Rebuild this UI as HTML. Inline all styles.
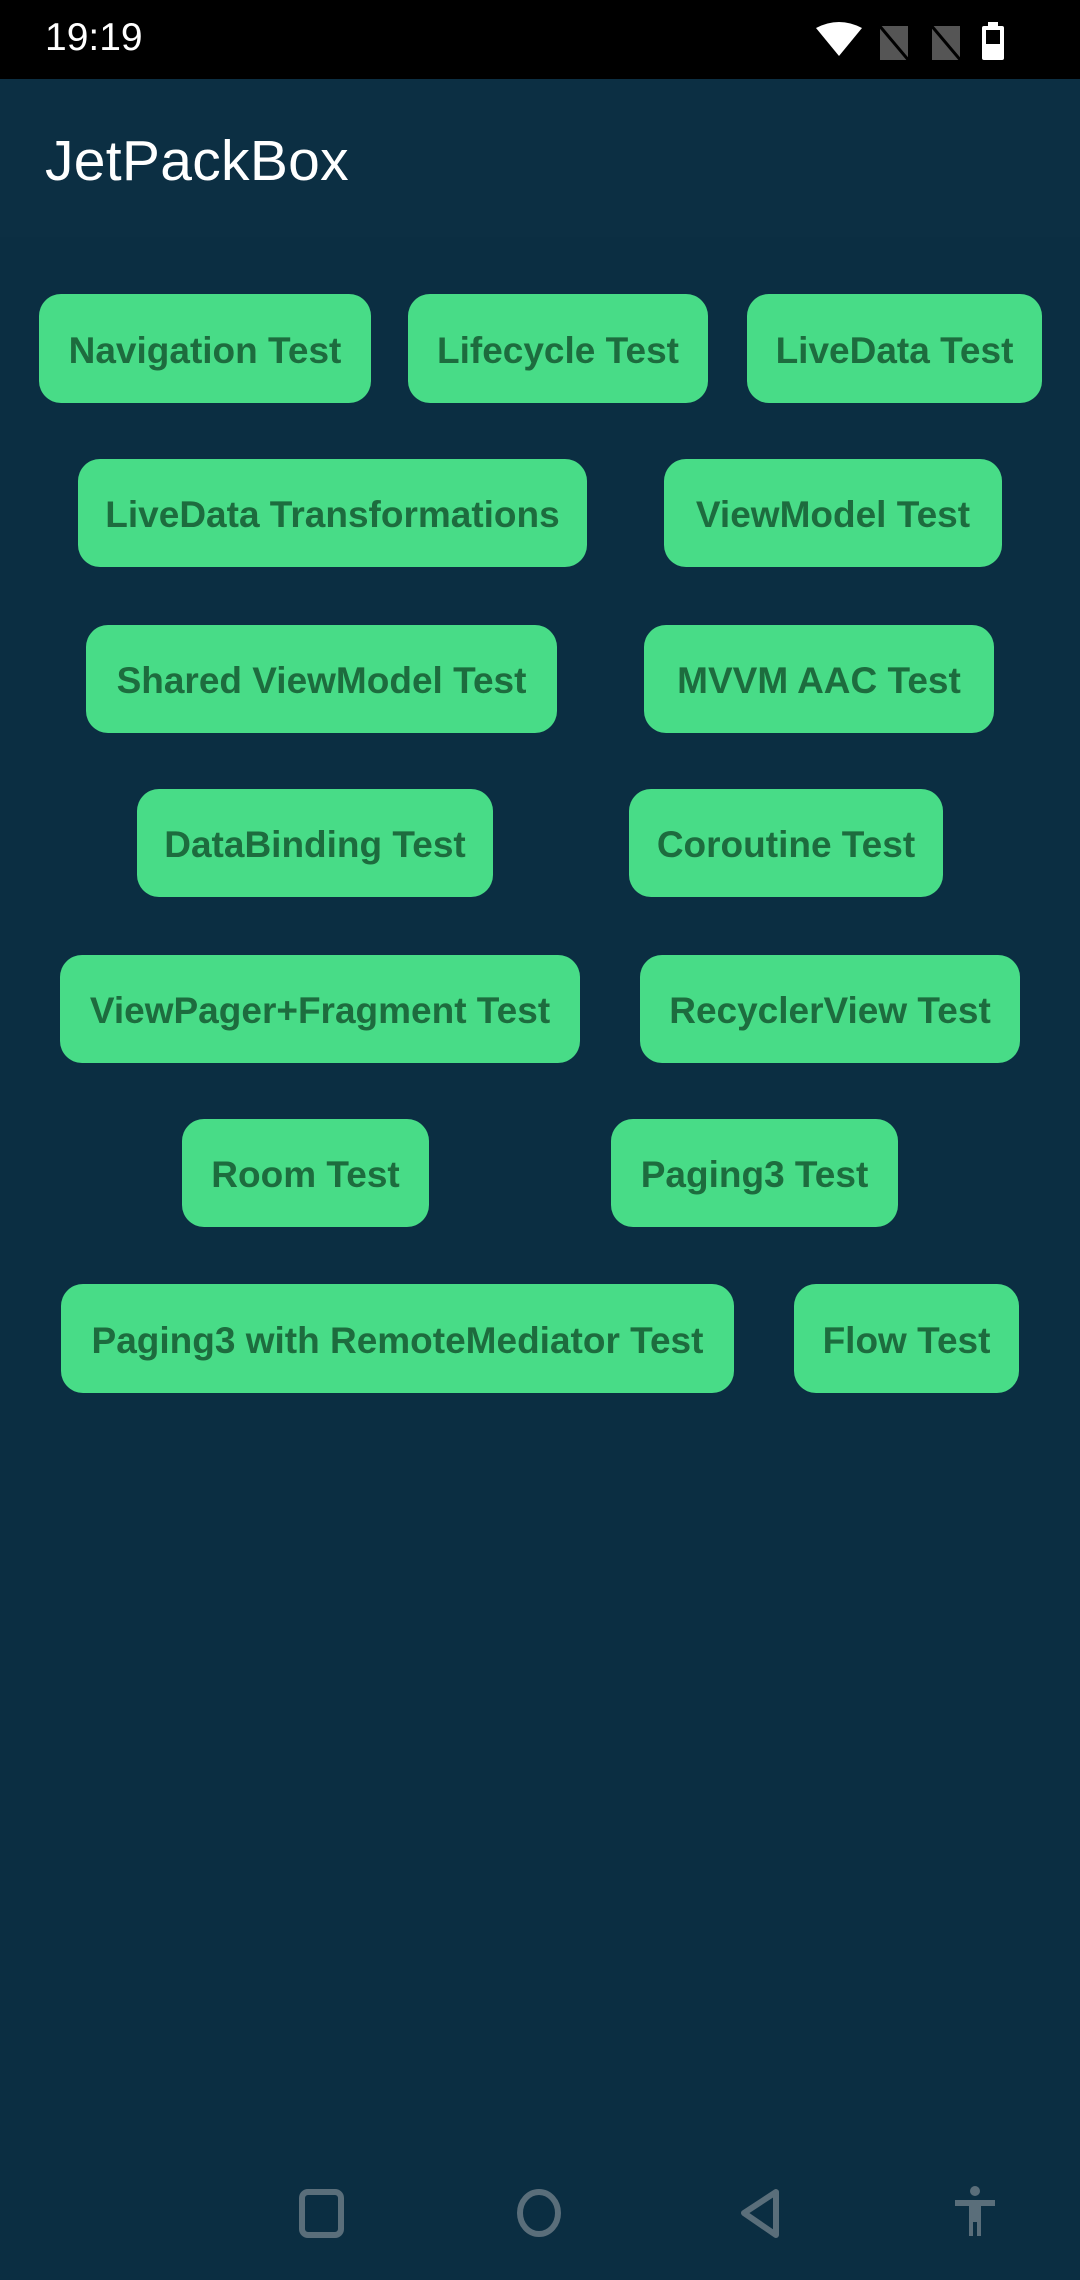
<!DOCTYPE html>
<html><head><meta charset="utf-8"><style>
*{margin:0;padding:0;box-sizing:border-box}
body{width:1080px;height:2280px;background:#0b2e42;position:relative;overflow:hidden;font-family:"Liberation Sans",sans-serif}
#sb{position:absolute;left:0;top:0;width:1080px;height:79px;background:#000}
#time{position:absolute;left:45px;top:16px;color:#fff;font-size:39px}
#tb{position:absolute;left:0;top:79px;width:1080px;height:158px;background:#0c2f43}
#title{position:absolute;left:45px;top:128px;color:#fff;font-size:57px;letter-spacing:0.3px}
.b{position:absolute;background:#48dc87;border-radius:22px;color:#1d6c3e;font-weight:bold;font-size:37px;letter-spacing:0px;display:flex;align-items:center;justify-content:center;white-space:nowrap;padding-top:4px}
.i{position:absolute}
</style></head><body>
<div id="sb"></div>
<div id="time">19:19</div>
<svg class="i" style="left:810px;top:20px" width="200" height="42" viewBox="0 0 200 42">
<path d="M6 8 Q29 -4 52 8 L29 36 Z" fill="#fff"/>
<path d="M70 6 L98 6 L98 40 L70 40 Z" fill="#555"/><line x1="68" y1="4" x2="100" y2="42" stroke="#000" stroke-width="3"/>
<path d="M122 6 L150 6 L150 40 L122 40 Z" fill="#555"/><line x1="120" y1="4" x2="152" y2="42" stroke="#000" stroke-width="3"/>
<rect x="172" y="6" width="22" height="34" rx="2" fill="#fff"/><rect x="178" y="2" width="10" height="5" fill="#fff"/><rect x="176" y="10" width="14" height="14" fill="#000"/>
</svg>
<div id="tb"></div>
<div id="title">JetPackBox</div>

<div class="b" style="left:39px;top:294px;width:332px;height:109px">Navigation Test</div>
<div class="b" style="left:408px;top:294px;width:300px;height:109px">Lifecycle Test</div>
<div class="b" style="left:747px;top:294px;width:295px;height:109px">LiveData Test</div>

<div class="b" style="left:78px;top:459px;width:509px;height:108px">LiveData Transformations</div>
<div class="b" style="left:664px;top:459px;width:338px;height:108px">ViewModel Test</div>

<div class="b" style="left:86px;top:625px;width:471px;height:108px">Shared ViewModel Test</div>
<div class="b" style="left:644px;top:625px;width:350px;height:108px">MVVM AAC Test</div>

<div class="b" style="left:137px;top:789px;width:356px;height:108px">DataBinding Test</div>
<div class="b" style="left:629px;top:789px;width:314px;height:108px">Coroutine Test</div>

<div class="b" style="left:60px;top:955px;width:520px;height:108px">ViewPager+Fragment Test</div>
<div class="b" style="left:640px;top:955px;width:380px;height:108px">RecyclerView Test</div>

<div class="b" style="left:182px;top:1119px;width:247px;height:108px">Room Test</div>
<div class="b" style="left:611px;top:1119px;width:287px;height:108px">Paging3 Test</div>

<div class="b" style="left:61px;top:1284px;width:673px;height:109px">Paging3 with RemoteMediator Test</div>
<div class="b" style="left:794px;top:1284px;width:225px;height:109px">Flow Test</div>

<svg class="i" style="left:0;top:2180px" width="1080" height="70" viewBox="0 0 1080 70">
<rect x="302" y="12" width="39" height="43" rx="6" fill="none" stroke="#5a6e7a" stroke-width="6"/>
<ellipse cx="539" cy="33" rx="19" ry="21" fill="none" stroke="#5a6e7a" stroke-width="6"/>
<path d="M776 12 L776 55 L744 33 Z" fill="none" stroke="#5a6e7a" stroke-width="6" stroke-linejoin="round"/>
<circle cx="975" cy="11" r="5" fill="#5a6e7a"/>
<path d="M955 20 L995 20 L995 26 L981 26 L981 56 L977 56 L977 42 L973 42 L973 56 L969 56 L969 26 L955 26 Z" fill="#5a6e7a"/>
</svg>
</body></html>
